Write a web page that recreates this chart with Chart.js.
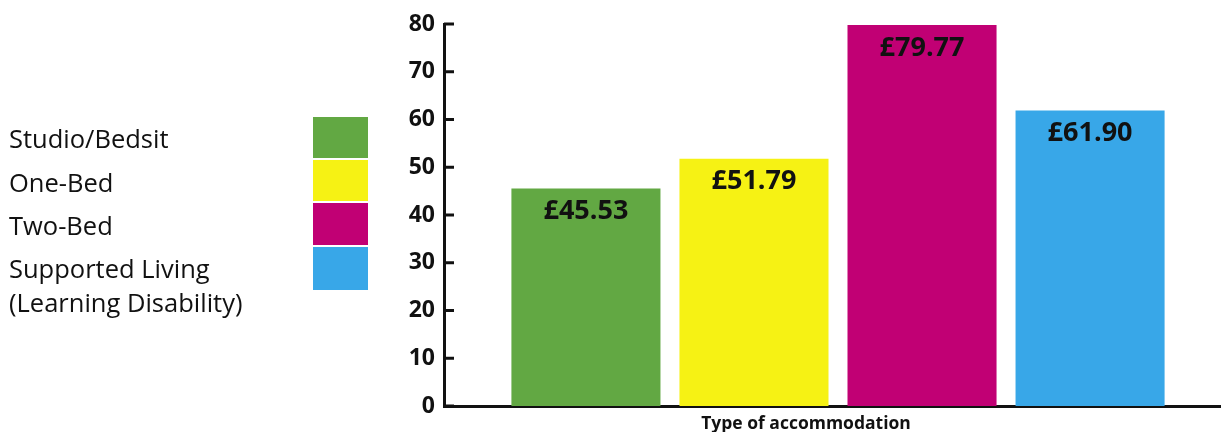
<!DOCTYPE html>
<html>
<head>
<meta charset="utf-8">
<script src="https://cdn.jsdelivr.net/npm/chart.js@4/dist/chart.umd.min.js"></script>
<style>
  html, body { margin: 0; padding: 0; background: #fff; overflow: hidden; }
  #wrap { position: relative; width: 1232px; height: 432px; }
  #legend { position: absolute; left: 0; top: 0; font-family: "Open Sans", sans-serif; font-size: 25.5px; color: #111; }
  .lt { position: absolute; left: 9px; white-space: nowrap; line-height: 30px; }
  .lb { position: absolute; left: 313px; width: 55px; }
  #xtitle { position: absolute; top: 410px; left: 806px; transform: translateX(-50%); font-family: "Open Sans", sans-serif; font-weight: bold; font-size: 17.5px; color: #111; white-space: nowrap; }
</style>
</head>
<body>
<div id="wrap">
  <canvas id="rentChart" width="1232" height="432"></canvas>
  <div id="legend"></div>
  <div id="xtitle">Type of accommodation</div>
</div>
<script>
const types = ["Studio/Bedsit", "One-Bed", "Two-Bed", "Supported Living\n(Learning Disability)"];
const rents = [45.53, 51.79, 79.77, 61.90];
const colours = ["#62a843", "#f6f214", "#c10074", "#38a7e8"];
const yTicks = [0, 10, 20, 30, 40, 50, 60, 70, 80];

// legend on the left, text then colour box
const legend = document.getElementById("legend");
const textTops = [123, 167, 210, 253];
const boxTops = [117, 160, 203, 247];
const boxHeights = [41, 41, 42, 43];
types.forEach((t, i) => {
    const lines = t.split("\n");
    lines.forEach((line, j) => {
        const d = document.createElement("div");
        d.className = "lt";
        d.style.top = (textTops[i] + j * 34) + "px";
        d.textContent = line;
        legend.appendChild(d);
    });
    const b = document.createElement("div");
    b.className = "lb";
    b.style.top = boxTops[i] + "px";
    b.style.height = boxHeights[i] + "px";
    b.style.background = colours[i];
    legend.appendChild(b);
});

// value labels inside top of bars + inward tick marks
const barLabels = {
    id: "barLabels",
    afterDatasetsDraw(chart) {
        const ctx = chart.ctx;
        ctx.save();
        ctx.font = "bold 27px 'Open Sans', sans-serif";
        ctx.fillStyle = "#111";
        ctx.textAlign = "center";
        ctx.textBaseline = "middle";
        chart.data.datasets.forEach((ds, i) => {
            const bar = chart.getDatasetMeta(i).data[0];
            ctx.fillText("£" + ds.data[0].toFixed(2), bar.x, bar.y + 23);
        });
        const y = chart.scales.y;
        ctx.strokeStyle = "#111";
        ctx.lineWidth = 3;
        yTicks.forEach(v => {
            const py = y.getPixelForValue(v);
            ctx.beginPath();
            ctx.moveTo(y.right, py);
            ctx.lineTo(y.right + 10, py);
            ctx.stroke();
        });
        ctx.restore();
    }
};

new Chart(document.getElementById("rentChart"), {
    type: "bar",
    data: {
        labels: [""],
        datasets: types.map((t, i) => ({
            label: t,
            data: [rents[i]],
            backgroundColor: colours[i],
            barPercentage: 0.887,
            categoryPercentage: 0.853
        }))
    },
    options: {
        responsive: false,
        animation: false,
        layout: { padding: { left: 380, top: 24, bottom: 26, right: 0 } },
        plugins: { legend: { display: false }, tooltip: { enabled: false } },
        scales: {
            x: {
                grid: { display: false, drawTicks: false },
                border: { color: "#111", width: 3 },
                ticks: { display: false },
                afterFit(scale) { scale.height = 0; }
            },
            y: {
                min: 0,
                max: 80,
                grid: { display: false, drawTicks: false },
                border: { color: "#111", width: 3 },
                ticks: {
                    stepSize: 10,
                    padding: 9,
                    color: "#111",
                    font: { family: "Open Sans", weight: "bold", size: 23 }
                },
                afterFit(scale) { scale.width = 64; }
            }
        }
    },
    plugins: [barLabels]
});
</script>
</body>
</html>
